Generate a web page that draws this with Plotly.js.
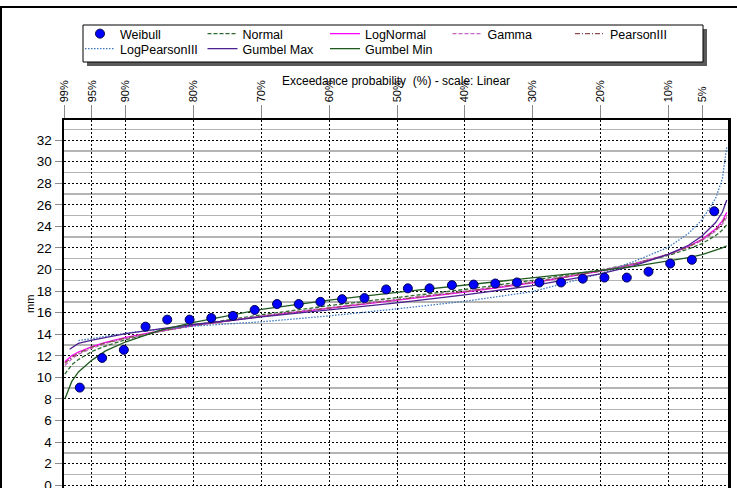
<!DOCTYPE html>
<html>
<head>
<meta charset="utf-8">
<script src="https://cdn.plot.ly/plotly-3.0.1.min.js"></script>
<style>
html, body { margin: 0; padding: 0; overflow: hidden; background: #fff; }
#chart { width: 737px; height: 510px; }
</style>
</head>
<body>
<div id="chart"></div>
<script>
// Exceedance probabilities (%) of the observations (Weibull plotting positions)
const pWeibull = [96.8, 93.5, 90.3, 87.1, 83.9, 80.6, 77.4, 74.2, 71.0, 67.7, 64.5, 61.3, 58.1, 54.8, 51.6,
                  48.4, 45.2, 41.9, 38.7, 35.5, 32.3, 29.0, 25.8, 22.6, 19.4, 16.1, 12.9, 9.7, 6.5, 3.2];
const weibull = [9.05, 11.8, 12.55, 14.7, 15.35, 15.35, 15.5, 15.7, 16.25, 16.8, 16.8, 17.0, 17.25, 17.35, 18.15,
                 18.25, 18.25, 18.55, 18.6, 18.7, 18.8, 18.8, 18.8, 19.15, 19.25, 19.25, 19.8, 20.55, 20.9, 25.4];

// Fitted distributions
const pFit = [99, 98, 97, 95, 93, 90, 85, 80, 70, 60, 50, 40, 30, 20, 15, 10, 7, 5, 3, 2, 1.35];
const normal     = [10.3, 11.15, 11.65, 12.4, 12.9, 13.5, 14.25, 14.85, 15.8, 16.65, 17.4, 18.15, 19.0, 19.95, 20.55, 21.3, 21.9, 22.4, 23.15, 23.65, 24.15];
const logNormal  = [11.45, 12.0, 12.35, 12.85, 13.25, 13.7, 14.3, 14.8, 15.65, 16.4, 17.15, 17.9, 18.75, 19.85, 20.5, 21.4, 22.15, 22.8, 23.75, 24.5, 25.3];
const gamma      = [11.1, 11.7, 12.15, 12.7, 13.15, 13.6, 14.25, 14.8, 15.7, 16.45, 17.2, 18.0, 18.85, 19.9, 20.55, 21.4, 22.1, 22.7, 23.55, 24.2, 24.85];
const pearson3   = [11.3, 11.85, 12.25, 12.8, 13.2, 13.65, 14.3, 14.8, 15.65, 16.45, 17.2, 17.95, 18.8, 19.85, 20.5, 21.4, 22.1, 22.75, 23.65, 24.35, 25.05];
const gumbelMin  = [8.0, 9.6, 10.5, 11.6, 12.45, 13.3, 14.35, 15.1, 16.3, 17.15, 17.88, 18.55, 19.2, 19.9, 20.28, 20.78, 21.1, 21.38, 21.75, 22.0, 22.2];

const pGumbelMax = [98.3, 97, 95, 93, 90, 85, 80, 70, 60, 50, 40, 30, 20, 15, 10, 7, 5, 3, 2, 1.35];
const gumbelMax  = [12.6, 13.15, 13.45, 13.7, 14.05, 14.5, 14.9, 15.6, 16.25, 16.9, 17.65, 18.5, 19.6, 20.35, 21.4, 22.25, 23.1, 24.35, 25.3, 26.45];

const pLogP3 = [97, 95, 93, 90, 85, 80, 70, 60, 50, 40, 30, 20, 15, 10, 7, 5, 3, 2, 1.35];
const logP3  = [13.4, 13.6, 13.8, 14.1, 14.45, 14.75, 15.15, 15.7, 16.35, 17.05, 17.95, 19.6, 20.75, 22.05, 23.35, 24.6, 26.6, 28.4, 31.4];

// Axis ticks
const xTickVals = [99, 95, 90, 80, 70, 60, 50, 40, 30, 20, 10, 5];
const xTickText = ['99%', '95%', '90%', '80%', '70%', '60%', '50%', '40%', '30%', '20%', '10%', '5%'];

const FONT = 'Liberation Sans, Arial, sans-serif';

// pixel -> paper helpers (plot area: x 64..728, y 120..496)
const L = 64, R = 728, T = 120, B = 496;
const px = v => (v - L) / (R - L);
const py = v => (B - v) / (B - T);

function line(name, x, y, color, dash, rank, lg) {
  return { type: 'scatter', mode: 'lines', name: name, x: x, y: y, legendrank: rank, legend: lg,
           line: { color: color, width: 1.3, dash: dash }, hoverinfo: 'skip' };
}

const data = [
  line('Normal', pFit, normal, '#2f6b2f', '4px,2px', 2, 'legend'),
  line('LogNormal', pFit, logNormal, '#ff00ff', 'solid', 3, 'legend'),
  line('Gamma', pFit, gamma, '#c466c4', '4px,2px', 4, 'legend'),
  line('PearsonIII', pFit, pearson3, '#8b4f4f', '5px,2px,1px,2px', 5, 'legend'),
  line('LogPearsonIII', pLogP3, logP3, '#3a78c0', '1.5px,1.5px', 6, 'legend2'),
  line('Gumbel Max', pGumbelMax, gumbelMax, '#4a2290', 'solid', 7, 'legend2'),
  line('Gumbel Min', pFit, gumbelMin, '#1f5a1f', 'solid', 8, 'legend2'),
  { type: 'scatter', mode: 'markers', name: 'Weibull', x: pWeibull, y: weibull, legendrank: 1, legend: 'legend',
    marker: { color: '#0000ff', size: 9, line: { color: '#000050', width: 1 } } }
];

const legendBase = {
  orientation: 'h', x: px(80), xanchor: 'left', yanchor: 'top',
  bgcolor: 'rgba(0,0,0,0)', borderwidth: 0,
  entrywidth: 77.5, entrywidthmode: 'pixels',
  font: { family: FONT, size: 12.5, color: '#000' },
  itemwidth: 30, tracegroupgap: 0
};

const layout = {
  width: 737, height: 510,
  margin: { l: L, r: 737 - R, t: T, b: 510 - B, autoexpand: false },
  paper_bgcolor: '#fff', plot_bgcolor: '#fff',
  font: { family: FONT, color: '#000' },
  showlegend: true,
  legend: Object.assign({}, legendBase, { y: py(19) }),
  legend2: Object.assign({}, legendBase, { y: py(34) }),
  xaxis: {
    side: 'top', range: [99.13, 1.17],
    tickmode: 'array', tickvals: xTickVals, ticktext: xTickText,
    tickangle: -90, tickfont: { family: FONT, size: 11, color: '#000' },
    ticks: 'outside', ticklen: 13, tickcolor: '#8a8a8a', tickwidth: 1,
    showgrid: true, gridcolor: '#000', gridwidth: 1, griddash: '2px,2px',
    showline: true, linecolor: '#000', linewidth: 2.5, mirror: true,
    zeroline: false
  },
  yaxis: {
    range: [-1, 33.86], tickmode: 'linear', tick0: 0, dtick: 2,
    tickfont: { family: FONT, size: 13.5, color: '#000' },
    ticks: 'outside', ticklen: 7, tickcolor: '#8a8a8a', tickwidth: 1,
    showgrid: true, gridcolor: '#000', gridwidth: 1, griddash: '2px,2px',
    minor: { dtick: 1, tick0: 0, showgrid: true, gridcolor: '#b4b4b4', gridwidth: 1.5, griddash: 'solid', ticks: '' },
    showline: true, linecolor: '#000', linewidth: 2.5, mirror: true,
    zeroline: false
  },
  shapes: [
    // outer frame
    { type: 'rect', xref: 'paper', yref: 'paper', x0: px(1), x1: px(745), y0: py(700), y1: py(7),
      line: { color: '#000', width: 2 }, fillcolor: 'rgba(0,0,0,0)', layer: 'above' },
    // legend shadow
    { type: 'rect', xref: 'paper', yref: 'paper', x0: px(87), x1: px(707), y0: py(66), y1: py(29),
      line: { width: 0 }, fillcolor: '#5a5a5a', layer: 'above' },
    // legend box
    { type: 'rect', xref: 'paper', yref: 'paper', x0: px(83), x1: px(703), y0: py(62), y1: py(25),
      line: { color: '#000', width: 1 }, fillcolor: '#fff', layer: 'above' }
  ],
  annotations: [
    { text: 'Exceedance probability\u00a0 (%) - scale: Linear', xref: 'paper', yref: 'paper',
      x: px(396), y: py(81), xanchor: 'center', yanchor: 'middle', showarrow: false,
      font: { family: FONT, size: 12, color: '#000' } },
    { text: 'mm', xref: 'paper', yref: 'paper', x: px(30), y: py(304), textangle: -90,
      xanchor: 'center', yanchor: 'middle', showarrow: false,
      font: { family: FONT, size: 11, color: '#000' } }
  ]
};

Plotly.newPlot('chart', data, layout, { displayModeBar: false, staticPlot: true });
</script>
</body>
</html>
